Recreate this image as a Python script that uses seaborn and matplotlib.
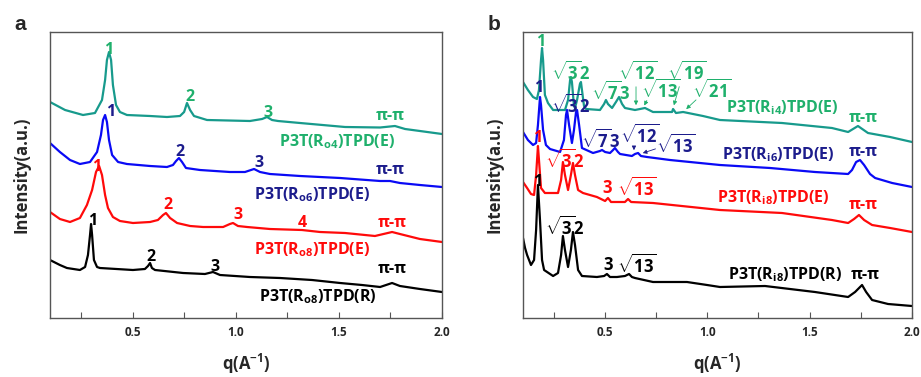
import matplotlib
matplotlib.use("Agg")
import matplotlib.pyplot as plt
import seaborn as sns

# ---- panel a : q (A^-1) and intensity (a.u., curves stacked) ----
ro4e_q = [0.100, 0.173, 0.260, 0.318, 0.352, 0.367, 0.376, 0.386, 0.396, 0.405, 0.420, 0.439, 0.473,
          0.585, 0.667, 0.730, 0.750, 0.764, 0.779, 0.798, 0.861, 1.069, 1.128, 1.152, 1.176, 1.205,
          1.312, 1.530, 1.700, 1.772, 1.821, 1.893, 2.000]
ro4e_i = [216, 208, 203, 205, 218, 238, 258, 266, 258, 233, 213, 206, 203,
          202, 201, 202, 206, 215, 208, 202, 198, 197, 199, 201, 198, 197,
          195, 191, 190.5, 192, 189, 187, 184]

ro6e_q = [0.100, 0.148, 0.197, 0.245, 0.294, 0.328, 0.347, 0.357, 0.367, 0.376, 0.386, 0.401, 0.430,
          0.473, 0.585, 0.667, 0.696, 0.711, 0.725, 0.740, 0.759, 0.827, 0.972, 1.045, 1.089, 1.118,
          1.166, 1.312, 1.506, 1.700, 1.748, 1.796, 1.893, 2.000]
ro6e_i = [175, 166, 158, 154, 156, 166, 183, 198, 203, 196, 178, 163, 156,
          154, 152, 151, 153, 157, 160, 156, 150, 148, 146, 146, 149, 146,
          144, 142, 140, 137, 137, 135, 133, 131]

ro8e_q = [0.100, 0.148, 0.197, 0.245, 0.279, 0.304, 0.323, 0.338, 0.352, 0.367, 0.381, 0.405, 0.439,
          0.502, 0.585, 0.623, 0.648, 0.662, 0.682, 0.716, 0.779, 0.842, 0.939, 0.972, 0.987, 1.011,
          1.055, 1.166, 1.321, 1.409, 1.530, 1.675, 1.758, 1.796, 1.893, 2.000]
ro8e_i = [106, 99, 96, 100, 113, 128, 146, 152, 143, 123, 110, 101, 97,
          95, 96, 98, 103, 105, 100, 95, 92, 91, 91, 94, 95, 92,
          91, 89, 88, 86, 85, 82, 86, 84, 79, 76]

ro8r_q = [0.100, 0.148, 0.182, 0.245, 0.270, 0.284, 0.294, 0.299, 0.304, 0.313, 0.328, 0.342, 0.502,
          0.560, 0.575, 0.585, 0.594, 0.609, 0.745, 0.851, 0.890, 0.924, 1.069, 1.215, 1.370, 1.506,
          1.612, 1.700, 1.758, 1.796, 1.893, 2.000]
ro8r_i = [58, 53, 50, 48, 51, 63, 83, 94, 83, 58, 51, 50, 48,
          49, 52, 55, 50, 48, 45, 44, 46, 43, 41, 40, 38, 35,
          33, 31, 35, 32, 29, 26]

# ---- panel b ----
ri4e_q = [0.100, 0.124, 0.149, 0.168, 0.178, 0.188, 0.193, 0.198, 0.207, 0.222, 0.247, 0.305, 0.320,
          0.330, 0.334, 0.339, 0.349, 0.354, 0.364, 0.378, 0.383, 0.388, 0.398, 0.408, 0.476, 0.496,
          0.505, 0.515, 0.535, 0.554, 0.569, 0.584, 0.598, 0.647, 0.696, 0.735, 0.828, 0.833, 0.847,
          0.882, 0.979, 1.062, 1.365, 1.609, 1.688, 1.736, 1.785, 1.893, 2.000]
ri4e_i = [236, 228, 221, 219, 228, 258, 270, 258, 223, 215, 208, 208, 218,
          238, 241, 236, 212, 210, 218, 234, 236, 228, 212, 209, 208, 214,
          218, 214, 210, 216, 221, 214, 210, 208, 210, 206, 206, 209, 205,
          206, 202, 198, 195, 190, 186, 192, 185, 181, 176]

ri6e_q = [0.100, 0.124, 0.149, 0.164, 0.173, 0.183, 0.188, 0.198, 0.212, 0.232, 0.281, 0.300, 0.310,
          0.315, 0.325, 0.339, 0.349, 0.359, 0.364, 0.374, 0.388, 0.442, 0.476, 0.486, 0.501, 0.525,
          0.540, 0.549, 0.564, 0.574, 0.632, 0.647, 0.662, 0.676, 0.706, 0.818, 1.062, 1.307, 1.526,
          1.688, 1.707, 1.727, 1.746, 1.766, 1.795, 1.820, 1.903, 2.000]
ri6e_i = [186, 178, 173, 175, 193, 221, 213, 188, 173, 169, 166, 178, 203,
          208, 193, 175, 188, 206, 208, 193, 170, 165, 167, 168, 166, 165,
          168, 170, 166, 164, 162, 164, 165, 162, 161, 158, 153, 150, 146,
          144, 148, 156, 158, 153, 144, 140, 135, 131]

ri8e_q = [0.100, 0.120, 0.139, 0.154, 0.164, 0.173, 0.178, 0.188, 0.207, 0.271, 0.286, 0.295, 0.305,
          0.320, 0.334, 0.344, 0.354, 0.369, 0.393, 0.461, 0.501, 0.515, 0.530, 0.598, 0.613, 0.628,
          0.735, 1.062, 1.365, 1.609, 1.688, 1.717, 1.741, 1.766, 1.805, 1.893, 2.000]
ri8e_i = [136, 130, 124, 123, 143, 172, 158, 130, 125, 125, 138, 156, 143,
          128, 143, 155, 143, 128, 125, 121, 117, 120, 116, 116, 119, 116,
          115, 108, 105, 98, 95, 99, 103, 98, 93, 90, 86]

ri8r_q = [0.100, 0.110, 0.120, 0.139, 0.154, 0.164, 0.173, 0.183, 0.193, 0.203, 0.247, 0.271, 0.286,
          0.295, 0.305, 0.320, 0.334, 0.344, 0.354, 0.369, 0.388, 0.461, 0.496, 0.510, 0.525, 0.559,
          0.598, 0.618, 0.632, 0.647, 0.735, 0.901, 0.999, 1.062, 1.282, 1.526, 1.688, 1.722, 1.756,
          1.776, 1.805, 1.883, 2.000]
ri8r_i = [80, 70, 63, 53, 58, 88, 133, 98, 58, 48, 42, 45, 63,
          82, 68, 51, 68, 86, 73, 48, 42, 41, 42, 44, 41, 41,
          42, 44, 41, 40, 36, 36, 33, 31, 32, 26, 21, 26, 33,
          26, 18, 14, 12]

x_ticks = [0.5, 1.0, 1.5, 2.0]
x_ticklabels = ["0.5", "1.0", "1.5", "2.0"]

TEAL = "#179a8c"
GREEN = "#1fb06c"
BLUE = "#0a0af5"
NAVY = "#1c1c8c"
RED = "#ff0a0a"
BLACK = "#000000"

sns.set_theme(style="ticks")
plt.rcParams["font.family"] = ["Open Sans", "DejaVu Sans"]
plt.rcParams["font.weight"] = "bold"
plt.rcParams["mathtext.fontset"] = "custom"
plt.rcParams["mathtext.rm"] = "Open Sans:bold"
plt.rcParams["mathtext.it"] = "Open Sans:bold"
plt.rcParams["mathtext.bf"] = "Open Sans:bold"
plt.rcParams["mathtext.sf"] = "Open Sans:bold"

fig = plt.figure(figsize=(9.21, 3.77), dpi=100)
ax_a = fig.add_axes([50 / 921, 59 / 377, 392 / 921, 286 / 377])
ax_b = fig.add_axes([523 / 921, 59 / 377, 389 / 921, 286 / 377])


def curve(ax, q, i, color):
    sns.lineplot(x=q, y=i, ax=ax, color=color, lw=1.6, legend=False)


def lab(ax, x, y, s, color, size=11.5):
    ax.text(x, y, s, color=color, fontsize=size, fontweight="bold", ha="center", va="center")


def arrow(ax, x0, y0, x1, y1, color):
    ax.annotate("", xy=(x1, y1), xytext=(x0, y0),
                arrowprops=dict(arrowstyle="-|>", color=color, lw=0.6, mutation_scale=6))


# panel a
curve(ax_a, ro4e_q, ro4e_i, TEAL)
curve(ax_a, ro6e_q, ro6e_i, BLUE)
curve(ax_a, ro8e_q, ro8e_i, RED)
curve(ax_a, ro8r_q, ro8r_i, BLACK)

lab(ax_a, 0.386, 268, "1", GREEN)
lab(ax_a, 0.779, 221, "2", GREEN)
lab(ax_a, 1.157, 205, "3", GREEN)
lab(ax_a, 1.748, 202, "π-π", GREEN)
lab(ax_a, 1.491, 176, r"P3T(R$_{o4}$)TPD(E)", GREEN)

lab(ax_a, 0.396, 206, "1", NAVY)
lab(ax_a, 0.730, 166, "2", NAVY)
lab(ax_a, 1.113, 155, "3", NAVY)
lab(ax_a, 1.748, 148, "π-π", NAVY)
lab(ax_a, 1.370, 123, r"P3T(R$_{o6}$)TPD(E)", NAVY)

lab(ax_a, 0.328, 151, "1", RED)
lab(ax_a, 0.672, 113, "2", RED)
lab(ax_a, 1.011, 103, "3", RED)
lab(ax_a, 1.321, 95, "4", RED)
lab(ax_a, 1.758, 95, "π-π", RED)
lab(ax_a, 1.370, 68, r"P3T(R$_{o8}$)TPD(E)", RED)

lab(ax_a, 0.308, 97, "1", BLACK)
lab(ax_a, 0.590, 61, "2", BLACK)
lab(ax_a, 0.900, 51, "3", BLACK)
lab(ax_a, 1.758, 49, "π-π", BLACK)
lab(ax_a, 1.399, 21, r"P3T(R$_{o8}$)TPD(R)", BLACK)

# panel b
curve(ax_b, ri4e_q, ri4e_i, TEAL)
curve(ax_b, ri6e_q, ri6e_i, BLUE)
curve(ax_b, ri8e_q, ri8e_i, RED)
curve(ax_b, ri8r_q, ri8r_i, BLACK)

RS = 12
lab(ax_b, 0.188, 276, "1", GREEN)
lab(ax_b, 0.330, 246, r"$\sqrt{3}$2", GREEN, RS)
lab(ax_b, 0.525, 226, r"$\sqrt{7}$3", GREEN, RS)
lab(ax_b, 0.660, 246, r"$\sqrt{12}$", GREEN, RS)
lab(ax_b, 0.772, 228, r"$\sqrt{13}$", GREEN, RS)
lab(ax_b, 0.900, 246, r"$\sqrt{19}$", GREEN, RS)
lab(ax_b, 1.020, 228, r"$\sqrt{21}$", GREEN, RS)
lab(ax_b, 1.365, 210, r"P3T(R$_{i4}$)TPD(E)", GREEN)
lab(ax_b, 1.761, 200, "π-π", GREEN)
arrow(ax_b, 0.652, 234, 0.652, 210, GREEN)
arrow(ax_b, 0.711, 220, 0.686, 210, GREEN)
arrow(ax_b, 0.867, 234, 0.833, 210, GREEN)
arrow(ax_b, 0.955, 220, 0.887, 207, GREEN)

lab(ax_b, 0.178, 230, "1", NAVY)
lab(ax_b, 0.330, 213, r"$\sqrt{3}$2", NAVY, RS)
lab(ax_b, 0.478, 178, r"$\sqrt{7}$3", NAVY, RS)
lab(ax_b, 0.672, 183, r"$\sqrt{12}$", NAVY, RS)
lab(ax_b, 0.848, 173, r"$\sqrt{13}$", NAVY, RS)
lab(ax_b, 1.346, 163, r"P3T(R$_{i6}$)TPD(E)", NAVY)
lab(ax_b, 1.761, 166, "π-π", NAVY)
arrow(ax_b, 0.642, 174, 0.642, 165, NAVY)
arrow(ax_b, 0.760, 170, 0.672, 164, NAVY)

lab(ax_b, 0.173, 180, "1", RED)
lab(ax_b, 0.305, 158, r"$\sqrt{3}$2", RED, RS)
lab(ax_b, 0.510, 130, "3", RED, RS)
lab(ax_b, 0.657, 130, r"$\sqrt{13}$", RED, RS)
lab(ax_b, 1.321, 120, r"P3T(R$_{i8}$)TPD(E)", RED)
lab(ax_b, 1.761, 113, "π-π", RED)

lab(ax_b, 0.173, 136, "1", BLACK)
lab(ax_b, 0.305, 91, r"$\sqrt{3}$2", BLACK, RS)
lab(ax_b, 0.515, 53, "3", BLACK, RS)
lab(ax_b, 0.657, 53, r"$\sqrt{13}$", BLACK, RS)
lab(ax_b, 1.380, 43, r"P3T(R$_{i8}$)TPD(R)", BLACK)
lab(ax_b, 1.771, 43, "π-π", BLACK)

for ax, letter in ((ax_a, "a"), (ax_b, "b")):
    ax.set_xlim(0.1, 2.0)
    ax.set_ylim(0, 286)
    ax.set_yticks([])
    ax.set_xticks(x_ticks)
    ax.set_xticklabels(x_ticklabels, fontsize=8.5, fontweight="bold")
    ax.set_xticks([0.25, 0.75, 1.25, 1.75], minor=True)
    ax.tick_params(axis="x", which="both", direction="in", length=4, width=0.8,
                   color="#555555", pad=6)
    for sp in ax.spines.values():
        sp.set_color("#555555")
        sp.set_linewidth(1.0)
    ax.set_xlabel("q(A$^{-1}$)", fontsize=12, fontweight="bold", labelpad=9)
    ax.set_ylabel("Intensity(a.u.)", fontsize=12, fontweight="bold", labelpad=14)
    ax.text(-0.075, 1.025, letter, transform=ax.transAxes, fontsize=15,
            fontweight="bold", family="Liberation Sans", ha="center", va="center")

fig.savefig("out.png", dpi=100)
